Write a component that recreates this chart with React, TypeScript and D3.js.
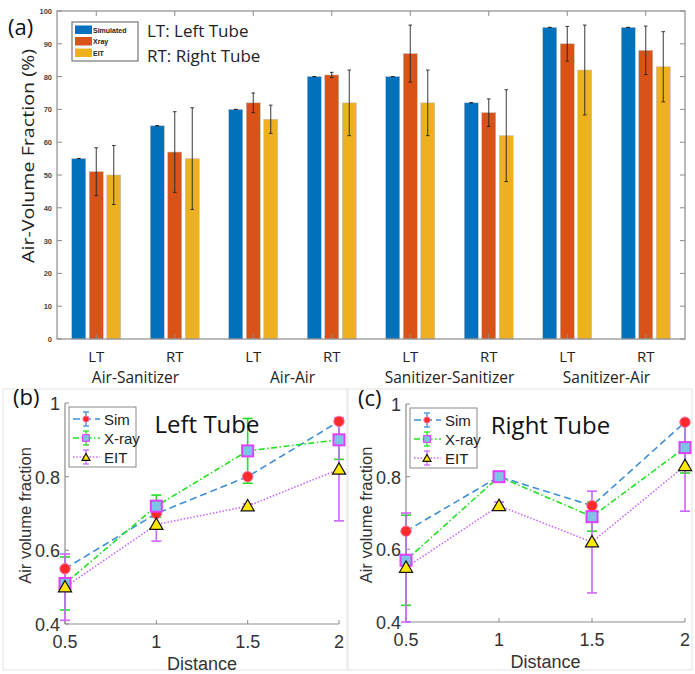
import React from "react";
import * as d3 from "d3";

// Top chart data (panel a)
const groupNames = ["Air-Sanitizer", "Air-Air", "Sanitizer-Sanitizer", "Sanitizer-Air"];
const tubeLabels = ["LT", "RT", "LT", "RT", "LT", "RT", "LT", "RT"];
const seriesNames = ["Simulated", "Xray", "EIT"];
const simulated = [55, 65, 70, 80, 80, 72, 95, 95];
const simulatedErr = [0, 0, 0, 0, 0, 0, 0, 0];
const xray = [51, 57, 72, 80.5, 87, 69, 90, 88];
const xrayErr = [7.3, 12.3, 3, 0.8, 8.7, 4.2, 5.3, 7.4];
const eit = [50, 55, 67, 72, 72, 62, 82, 83];
const eitErr = [9, 15.5, 4.3, 10, 10, 14, 13.7, 10.7];
const yTicksTop = [0, 10, 20, 30, 40, 50, 60, 70, 80, 90, 100];

// Bottom charts data (panels b, c)
const distances = [0.5, 1, 1.5, 2];
const leftSim = [0.55, 0.7, 0.8, 0.95];
const leftSimErr = [0, 0, 0, 0];
const leftXray = [0.51, 0.72, 0.87, 0.9];
const leftXrayErr = [0.072, 0.03, 0.088, 0.053];
const leftEit = [0.5, 0.67, 0.72, 0.82];
const leftEitErr = [0.09, 0.045, 0.006, 0.14];
const rightSim = [0.65, 0.8, 0.72, 0.95];
const rightSimErr = [0, 0, 0, 0];
const rightXray = [0.57, 0.8, 0.69, 0.88];
const rightXrayErr = [0.124, 0.005, 0.04, 0.07];
const rightEit = [0.55, 0.72, 0.62, 0.83];
const rightEitErr = [0.15, 0.01, 0.14, 0.125];
const yTicksBottom = [0.4, 0.6, 0.8, 1];

const barColors = ["#0072BD", "#D95319", "#EDB120"];
const axisGray = "#8c8c8c";
const sansUI = "'Open Sans', 'Noto Sans', sans-serif";
const helv = "'Liberation Sans', Arial, sans-serif";

function BarChart() {
  const left = 57, right = 685, top = 11, bottom = 339;
  const x = d3.scaleLinear().domain([0.5, 8.5]).range([left, right]);
  const y = d3.scaleLinear().domain([0, 100]).range([bottom, top]);
  const inner = d3.scaleBand().domain(seriesNames).range([-24.5, 24.5]).paddingInner(0.2);
  const series = [
    { name: "Simulated", vals: simulated, errs: simulatedErr },
    { name: "Xray", vals: xray, errs: xrayErr },
    { name: "EIT", vals: eit, errs: eitErr },
  ];
  const idx = d3.range(tubeLabels.length);

  return (
    <g>
      {/* bars */}
      {series.map((s, si) =>
        idx.map((i) => {
          const bx = x(i + 1) + (inner(s.name) as number);
          return (
            <rect key={s.name + i} x={bx} y={y(s.vals[i])} width={inner.bandwidth()}
              height={y(0) - y(s.vals[i])} fill={barColors[si]} stroke="#bdbdbd" strokeWidth={0.5} />
          );
        })
      )}
      {/* error bars */}
      {series.map((s) =>
        idx.map((i) => {
          const cx = x(i + 1) + (inner(s.name) as number) + inner.bandwidth() / 2;
          const y1 = y(s.vals[i] + s.errs[i]);
          const y2 = y(s.vals[i] - s.errs[i]);
          return (
            <g key={"e" + s.name + i} stroke="#222" strokeWidth={0.9}>
              <line x1={cx} x2={cx} y1={y1} y2={y2} />
              <line x1={cx - 1.8} x2={cx + 1.8} y1={y1} y2={y1} />
              <line x1={cx - 1.8} x2={cx + 1.8} y1={y2} y2={y2} />
            </g>
          );
        })
      )}
      {/* axes box */}
      <rect x={left} y={top} width={right - left} height={bottom - top} fill="none" stroke={axisGray} strokeWidth={1.2} />
      {yTicksTop.map((t) => (
        <g key={"yt" + t}>
          <line x1={left} x2={left + 5} y1={y(t)} y2={y(t)} stroke={axisGray} />
          <line x1={right} x2={right - 5} y1={y(t)} y2={y(t)} stroke={axisGray} />
          <text x={left - 5} y={y(t) + 3} textAnchor="end" fontSize={7.5} fontWeight="bold" fill="#444" fontFamily={helv}>
            {t}
          </text>
        </g>
      ))}
      {idx.map((i) => (
        <g key={"xt" + i}>
          <line x1={x(i + 1)} x2={x(i + 1)} y1={top} y2={top + 5} stroke={axisGray} />
          <line x1={x(i + 1)} x2={x(i + 1)} y1={bottom} y2={bottom - 5} stroke={axisGray} />
          <text x={x(i + 1)} y={362} textAnchor="middle" fontSize={15} fill="#222" fontFamily={sansUI}>
            {tubeLabels[i]}
          </text>
        </g>
      ))}
      {groupNames.map((g, gi) => (
        <text key={g} x={(x(gi * 2 + 1) + x(gi * 2 + 2)) / 2} y={383} textAnchor="middle" fontSize={15.5}
          fill="#222" fontFamily={sansUI}>
          {g}
        </text>
      ))}
      <text transform={`translate(34,156) rotate(-90)`} textAnchor="middle" fontSize={17}
        textLength={214} lengthAdjust="spacingAndGlyphs" fill="#222" fontFamily={sansUI}>
        Air-Volume Fraction (%)
      </text>
      <text x={8} y={35} fontSize={22} fill="#111" fontFamily={sansUI}>(a)</text>
      {/* legend */}
      <rect x={72} y={22} width={66} height={39} fill="#fff" stroke="#777" strokeWidth={1.2} />
      {seriesNames.map((n, i) => (
        <g key={"lg" + n}>
          <rect x={75} y={25.5 + i * 11.5} width={17} height={8.5} fill={barColors[i]} />
          <text x={93} y={32.5 + i * 11.5} fontSize={7} fontWeight="bold" fill="#222" fontFamily={helv}>{n}</text>
        </g>
      ))}
      <text x={147} y={37} fontSize={17} fill="#222" fontFamily={sansUI}>LT: Left Tube</text>
      <text x={147} y={62} fontSize={17} fill="#222" fontFamily={sansUI}>RT: Right Tube</text>
    </g>
  );
}

type PanelProps = {
  box: { l: number; r: number; t: number; b: number };
  frame: { x: number; y: number; w: number; h: number };
  tag: string;
  title: string;
  sim: number[]; simErr: number[];
  xr: number[]; xrErr: number[];
  ei: number[]; eiErr: number[];
};

const simColor = "#3d8fd6";
const xrayColor = "#22e022";
const eitColor = "#cc66ff";

function Marker({ kind, cx, cy, s = 1 }: { kind: string; cx: number; cy: number; s?: number }) {
  if (kind === "sim") return <circle cx={cx} cy={cy} r={5.2 * s} fill="#ff2a2a" stroke="#ff6fa8" strokeWidth={1} />;
  if (kind === "xray")
    return <rect x={cx - 5.5 * s} y={cy - 5.5 * s} width={11 * s} height={11 * s} fill="#7cc4e6" stroke="#e040fb" strokeWidth={2 * s} />;
  const tri = d3.symbol().type(d3.symbolTriangle).size(75 * s * s)();
  return <path d={tri as string} transform={`translate(${cx},${cy + 1})`} fill="#ffe800" stroke="#111" strokeWidth={1.2} />;
}

function LinePanel(p: PanelProps) {
  const { l, r, t, b } = p.box;
  const x = d3.scaleLinear().domain([0.5, 2]).range([l, r]);
  const y = d3.scaleLinear().domain([0.4, 1]).range([b, t]);
  const line = d3.line<number>().x((_, i) => x(distances[i])).y((d) => y(d));
  const series = [
    { kind: "sim", name: "Sim", vals: p.sim, errs: p.simErr, color: simColor, dash: "7,4" },
    { kind: "xray", name: "X-ray", vals: p.xr, errs: p.xrErr, color: xrayColor, dash: "6,2.5,1.5,2.5" },
    { kind: "eit", name: "EIT", vals: p.ei, errs: p.eiErr, color: eitColor, dash: "1.5,1.8" },
  ];
  const lgX = l + 4, lgY = t + 4;

  return (
    <g>
      <rect x={p.frame.x} y={p.frame.y} width={p.frame.w} height={p.frame.h} fill="none" stroke="#e3e3e3" strokeWidth={1} />
      {/* axes */}
      <line x1={l} x2={l} y1={t} y2={b} stroke={axisGray} strokeWidth={1.2} />
      <line x1={l} x2={r} y1={b} y2={b} stroke={axisGray} strokeWidth={1.2} />
      {yTicksBottom.map((v) => (
        <g key={"y" + v}>
          <line x1={l} x2={l + 4} y1={y(v)} y2={y(v)} stroke={axisGray} />
          <text x={l - 5} y={y(v) + 7} textAnchor="end" fontSize={18} fill="#333" fontFamily={helv}>{v}</text>
        </g>
      ))}
      {distances.map((d) => (
        <g key={"x" + d}>
          <line x1={x(d)} x2={x(d)} y1={b} y2={b - 4} stroke={axisGray} />
          <text x={x(d)} y={b + 24} textAnchor="middle" fontSize={18} fill="#333" fontFamily={helv}>{d}</text>
        </g>
      ))}
      <text x={(l + r) / 2} y={b + 46} textAnchor="middle" fontSize={18} fill="#333" fontFamily={helv}>Distance</text>
      <text transform={`translate(${l - 34},${(t + b) / 2 + 2}) rotate(-90)`} textAnchor="middle" fontSize={16.5}
        fill="#333" fontFamily={helv}>
        Air volume fraction
      </text>
      {/* lines */}
      {series.map((s) => (
        <path key={"l" + s.name} d={line(s.vals) as string} fill="none" stroke={s.color} strokeWidth={1.6} strokeDasharray={s.dash} />
      ))}
      {/* error bars */}
      {series.map((s) =>
        s.vals.map((v, i) => {
          if (s.errs[i] <= 0) return null;
          const cx = x(distances[i]);
          const y1 = y(Math.min(1, v + s.errs[i]));
          const y2 = y(Math.max(0.4, v - s.errs[i]));
          return (
            <g key={"e" + s.name + i} stroke={s.color} strokeWidth={1.6}>
              <line x1={cx} x2={cx} y1={y1} y2={y2} />
              <line x1={cx - 5} x2={cx + 5} y1={y1} y2={y1} />
              <line x1={cx - 5} x2={cx + 5} y1={y2} y2={y2} />
            </g>
          );
        })
      )}
      {/* markers */}
      {series.map((s) =>
        s.vals.map((v, i) => <Marker key={"m" + s.name + i} kind={s.kind} cx={x(distances[i])} cy={y(v)} />)
      )}
      {/* legend */}
      <rect x={lgX} y={lgY} width={67} height={60} fill="#fff" stroke="#888" strokeWidth={1} />
      {series.map((s, i) => {
        const ly = lgY + 12 + i * 19;
        return (
          <g key={"lg" + s.name}>
            <line x1={lgX + 4} x2={lgX + 31} y1={ly} y2={ly} stroke={s.color} strokeWidth={1.4} strokeDasharray={s.dash} />
            <g stroke={s.color} strokeWidth={1.3}>
              <line x1={lgX + 17} x2={lgX + 17} y1={ly - 7} y2={ly + 7} />
              <line x1={lgX + 14} x2={lgX + 20} y1={ly - 7} y2={ly - 7} />
              <line x1={lgX + 14} x2={lgX + 20} y1={ly + 7} y2={ly + 7} />
            </g>
            <Marker kind={s.kind} cx={lgX + 17} cy={ly} s={0.6} />
            <text x={lgX + 35} y={ly + 5.5} fontSize={15} fill="#222" fontFamily={helv}>{s.name}</text>
          </g>
        );
      })}
      <text x={(l + r) / 2 + 5} y={t + 30} textAnchor="middle" fontSize={24} fill="#111" fontFamily={sansUI}>{p.title}</text>
      <text x={p.frame.x + 10} y={t + 2} fontSize={22} fill="#111" fontFamily={sansUI}>{p.tag}</text>
    </g>
  );
}

export default function App() {
  return (
    <svg width={695} height={674} style={{ position: "absolute", left: 0, top: 0, display: "block", background: "#fff" }}>
      <rect x={0} y={0} width={695} height={674} fill="#fff" />
      <BarChart />
      <LinePanel box={{ l: 65, r: 339, t: 403, b: 624 }} frame={{ x: 3, y: 389, w: 344, h: 281 }} tag="(b)" title="Left Tube"
        sim={leftSim} simErr={leftSimErr} xr={leftXray} xrErr={leftXrayErr} ei={leftEit} eiErr={leftEitErr} />
      <LinePanel box={{ l: 406, r: 685, t: 404, b: 622 }} frame={{ x: 348, y: 389, w: 344, h: 281 }} tag="(c)" title="Right Tube"
        sim={rightSim} simErr={rightSimErr} xr={rightXray} xrErr={rightXrayErr} ei={rightEit} eiErr={rightEitErr} />
    </svg>
  );
}
